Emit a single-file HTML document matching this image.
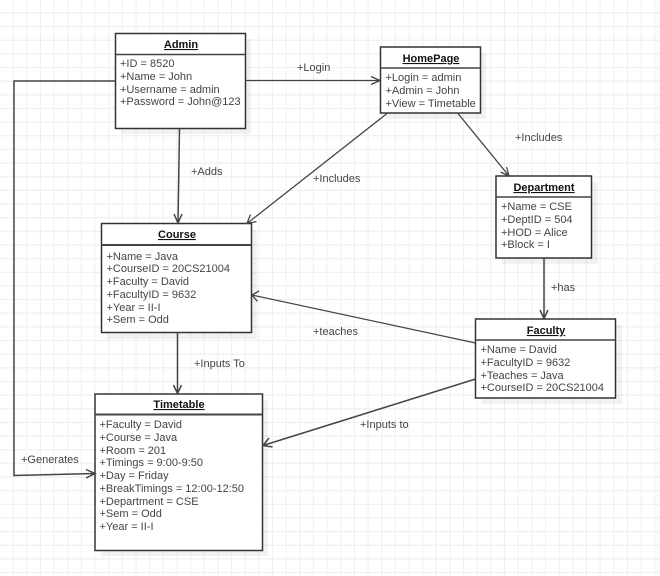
<!DOCTYPE html>
<html><head><meta charset="utf-8"><style>
html,body{margin:0;padding:0;background:#fff;overflow:hidden}
svg{display:block;filter:blur(.35px)}
text{font-family:"Liberation Sans",Arial,sans-serif;font-size:11px;fill:#444}
.t{font-weight:bold;fill:#111;text-anchor:middle;text-decoration:underline}
.b{fill:#fff;stroke:#333;stroke-width:1.5}
.s{fill:#000;fill-opacity:.05}
.d{stroke:#444;stroke-width:1.5;fill:none}
.l{stroke:#444;stroke-width:1.3;fill:none}
</style></head><body>
<svg width="660" height="576" viewBox="0 0 660 576" xmlns="http://www.w3.org/2000/svg">
<defs>
<pattern id="g" x="0" y="0" width="13.65" height="13.65" patternUnits="userSpaceOnUse">
<path d="M13.3 0V13.65M0 12.9H13.65" stroke="#efefef" stroke-width="1.3" fill="none"/>
</pattern>
</defs>
<rect width="660" height="576" fill="#fff"/>
<rect width="660" height="576" fill="url(#g)"/>

<rect class="s" x="121" y="39" width="130" height="95"/>
<rect class="s" x="386" y="53" width="100" height="66"/>
<rect class="s" x="502" y="182" width="96" height="82"/>
<rect class="s" x="107" y="230" width="150" height="109"/>
<rect class="s" x="482" y="325" width="140" height="79"/>
<rect class="s" x="101" y="400" width="167" height="156"/>

<rect class="b" x="115.5" y="33.5" width="130" height="95"/>
<path class="d" d="M115.5 54.5H245.5"/>
<text class="t" x="181" y="48">Admin</text>
<text x="120" y="67">+ID = 8520</text>
<text x="120" y="80">+Name = John</text>
<text x="120" y="93">+Username = admin</text>
<text x="120" y="105">+Password = John@123</text>

<rect class="b" x="380.5" y="47" width="100" height="66"/>
<path class="d" d="M380.5 68H480.5"/>
<text class="t" x="431" y="62">HomePage</text>
<text x="385.5" y="81">+Login = admin</text>
<text x="385.5" y="94">+Admin = John</text>
<text x="385.5" y="107">+View = Timetable</text>

<rect class="b" x="496" y="176" width="95.5" height="82"/>
<path class="d" d="M496 197H591.5"/>
<text class="t" x="544" y="191">Department</text>
<text x="501" y="210">+Name = CSE</text>
<text x="501" y="223">+DeptID = 504</text>
<text x="501" y="236">+HOD = Alice</text>
<text x="501" y="248">+Block = I</text>

<rect class="b" x="101.5" y="223.5" width="150" height="109"/>
<path class="d" d="M101.5 245H251.5" style="stroke-width:2"/>
<text class="t" x="177" y="238">Course</text>
<text x="106.5" y="260">+Name = Java</text>
<text x="106.5" y="272">+CourseID = 20CS21004</text>
<text x="106.5" y="285">+Faculty = David</text>
<text x="106.5" y="298">+FacultyID = 9632</text>
<text x="106.5" y="311">+Year = II-I</text>
<text x="106.5" y="323">+Sem = Odd</text>

<rect class="b" x="475.5" y="319" width="140" height="79"/>
<path class="d" d="M475.5 340H615.5"/>
<text class="t" x="546" y="334">Faculty</text>
<text x="480.5" y="353">+Name = David</text>
<text x="480.5" y="366">+FacultyID = 9632</text>
<text x="480.5" y="379">+Teaches = Java</text>
<text x="480.5" y="391">+CourseID = 20CS21004</text>

<rect class="b" x="95" y="394" width="167.5" height="156.5"/>
<path class="d" d="M95 414.5H262.5" style="stroke-width:2"/>
<text class="t" x="179" y="408">Timetable</text>
<text x="99.5" y="428">+Faculty = David</text>
<text x="99.5" y="441">+Course = Java</text>
<text x="99.5" y="454">+Room = 201</text>
<text x="99.5" y="466">+Timings = 9:00-9:50</text>
<text x="99.5" y="479">+Day = Friday</text>
<text x="99.5" y="492">+BreakTimings = 12:00-12:50</text>
<text x="99.5" y="505">+Department = CSE</text>
<text x="99.5" y="517">+Sem = Odd</text>
<text x="99.5" y="530">+Year = II-I</text>

<path class="l" d="M245.5 80.5H380M371 76.5L380 80.5L371 84.5"/>
<path class="d" d="M115.5 81H14V475.5L95 473.5M86 469.5L95 473.5L86 478"/>
<path class="d" d="M179.5 128.5L178 223M174 214L178 223L182 214"/>
<path class="l" d="M387 113.5L247 223.5M250.5 214.5L247 223.5L256.5 221.5"/>
<path class="l" d="M458 113.5L509 176M500.5 172L509 176L506.5 167"/>
<path class="d" d="M544 258V318.5M540 310L544 318.5L548 310"/>
<path class="d" d="M177.5 332.5V393.5M173.5 385L177.5 393.5L181.5 385"/>
<path class="l" d="M475.5 343L252 295M259 291L252 295L257.5 301.5"/>
<path class="d" d="M475.5 379L263 445.5M269 438L263 445.5L272.5 447"/>

<text x="297" y="71">+Login</text>
<text x="191" y="175">+Adds</text>
<text x="313" y="182">+Includes</text>
<text x="515" y="141">+Includes</text>
<text x="551" y="291">+has</text>
<text x="313" y="335">+teaches</text>
<text x="194" y="367">+Inputs To</text>
<text x="360" y="428">+Inputs to</text>
<text x="21" y="463">+Generates</text>
</svg>
</body></html>
